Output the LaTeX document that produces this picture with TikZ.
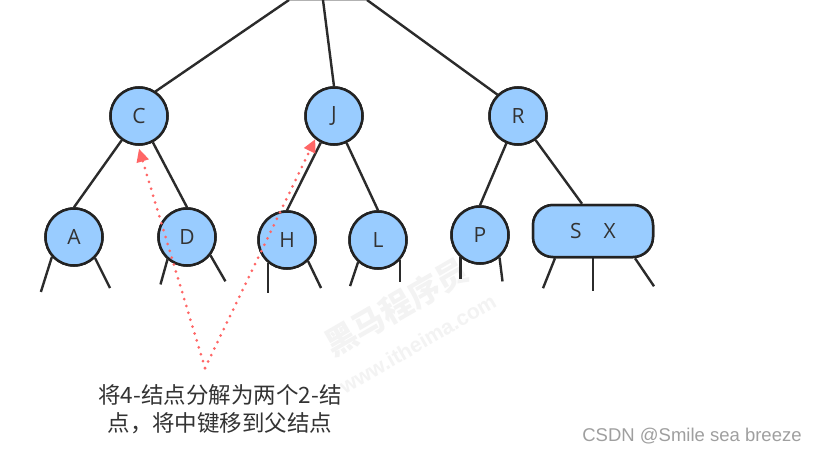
\documentclass[tikz,border=0pt]{standalone}
\usepackage{fontspec}
\newfontfamily\cjk{Noto Sans CJK SC}
\newfontfamily\lab{Open Sans}
\newfontfamily\wm{Liberation Sans}
\usetikzlibrary{arrows.meta}
\definecolor{nodefill}{HTML}{99CCFF}
\definecolor{nodeline}{HTML}{222222}
\definecolor{edgecol}{HTML}{2B2B2B}
\definecolor{txt}{HTML}{333333}
\definecolor{redc}{HTML}{FF6666}
\definecolor{wmark}{HTML}{F3F3F3}
\tikzset{
  bnode/.style={circle,draw=nodeline,fill=nodefill,line width=2.5pt,minimum size=57pt,inner sep=0pt,
    font=\lab\fontsize{21}{24}\selectfont,text=txt},
  bwide/.style={rounded corners=20pt,draw=nodeline,fill=nodefill,line width=2.5pt,minimum width=120pt,minimum height=52pt,inner sep=0pt,
    font=\lab\fontsize{21}{24}\selectfont,text=txt},
  edge/.style={draw=edgecol,line width=2.4pt},
  stub/.style={draw=edgecol,line width=2.4pt},
  redarrow/.style={draw=redc,line width=3pt,line cap=round,dash pattern=on 0pt off 7.2pt,
    -{Triangle[length=13pt,width=12pt,fill=redc]}},
}
\begin{document}
\begin{tikzpicture}[x=1pt,y=-1pt]
\useasboundingbox[fill=white] (0,0) rectangle (820,452);
% watermark
\node[rotate=30,text=wmark,align=center,font=\cjk\bfseries\fontsize{32}{38}\selectfont] (wm) at (405,322) {黑马程序员\\{\wm\fontsize{21}{21}\selectfont www.itheima.com}};
% root connectors free ends
\coordinate (rootL) at (289,0);
\coordinate (rootM) at (323,0);
\coordinate (rootR) at (367,0);
\draw[draw=gray!60,line width=0.8pt] (rootL) -- (rootR);
% nodes
\node[bnode] (C) at (139,116) {C};
\node[bnode] (J) at (334,116) {J};
\node[bnode] (R) at (518,116) {R};
\node[bnode] (A) at (74,237) {A};
\node[bnode] (D) at (187,237) {D};
\node[bnode] (H) at (287,240) {H};
\node[bnode] (L) at (378,240) {L};
\node[bnode] (P) at (480,235) {P};
\node[bwide] (SX) at (593,231) {S\hspace{22pt}X};
% edges
\draw[edge] (C.56) -- (rootL);
\draw[edge] (J.north) -- (rootM);
\draw[edge] (R.134) -- (rootR);
\draw[edge] (C) -- (A.north);
\draw[edge] (C) -- (D.north);
\draw[edge] (J) -- (H.north);
\draw[edge] (J) -- (L.north);
\draw[edge] (R) -- (P.north);
\draw[edge] (R) -- ([xshift=-11pt]SX.north);
% stubs
\draw[stub] (A.222) -- +(-11,35);
\draw[stub] (A.315) -- +(15,30);
\draw[stub] (D.229) -- +(-7,25);
\draw[stub] (D.322) -- +(15,26);
\draw[stub] (H.230) -- +(0,30);
\draw[stub] (H.315) -- +(13,27);
\draw[stub] (L.228) -- +(-8,24);
\draw[stub] (L.318) -- +(0,22);
\draw[stub] (P.229) -- +(0,22);
\draw[stub] (P.311) -- +(3,24);
\draw[stub] ([xshift=-38pt]SX.south) -- +(-12,30);
\draw[stub] (SX.south) -- +(0,33);
\draw[stub] ([xshift=42pt]SX.south) -- +(19,28);
% redraw nodes over edges
\node[bnode] (C2) at (C) {C};
\node[bnode] (J2) at (J) {J};
\node[bnode] (R2) at (R) {R};
\node[bnode] (A2) at (A) {A};
\node[bnode] (D2) at (D) {D};
\node[bnode] (H2) at (H) {H};
\node[bnode] (L2) at (L) {L};
\node[bnode] (P2) at (P) {P};
\node[bwide] (SX2) at (SX) {S\hspace{22pt}X};
% red arrows
\coordinate (apex) at (205,368);
\draw[redarrow] (apex) -- ([yshift=-3pt]C.south);
\draw[redarrow] (apex) -- (J.231);
% annotation
\node[align=center,text=txt,font=\cjk\fontsize{22.5}{28}\selectfont] (note) at (220,409) {将4-结点分解为两个2-结\\点，将中键移到父结点};
\node[text=gray!75,font=\wm\fontsize{18.5}{20}\selectfont] (csdn) at (692,436) {CSDN @Smile sea breeze};
\end{tikzpicture}
\end{document}
